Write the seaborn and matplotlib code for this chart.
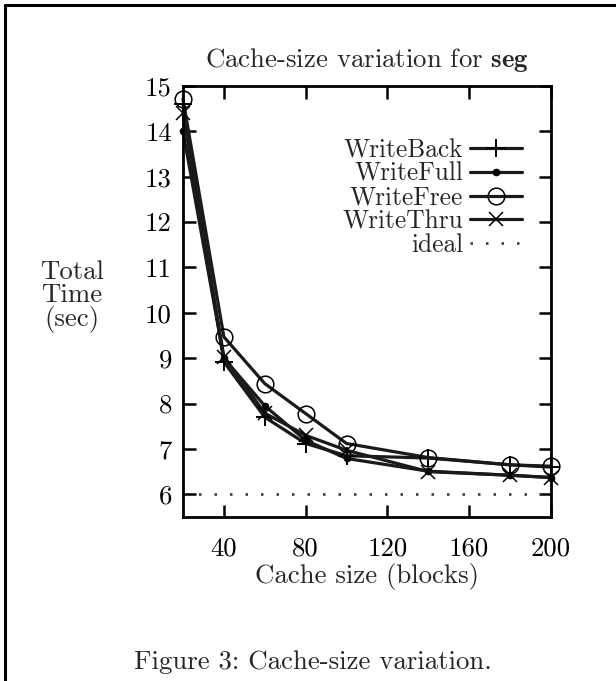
import matplotlib
matplotlib.use("Agg")
import matplotlib.pyplot as plt
import seaborn as sns
import pandas as pd
from matplotlib.lines import Line2D

# ---- data ----
cache_sizes = [20, 40, 60, 80, 100, 140, 180, 200]
write_back = [14.6, 8.92, 7.70, 7.12, 6.85, 6.80, 6.65, 6.60]
write_full = [14.0, 9.00, 7.95, 7.19, 6.79, 6.51, 6.42, 6.37]
write_free = [14.71, 9.47, 8.44, 7.78, 7.12, 6.81, 6.65, 6.62]
write_thru = [14.4, 9.03, 7.79, 7.30, 6.97, 6.50, 6.42, 6.37]
ideal_x = [20, 200]
ideal_y = [6, 6]
x_ticks = [40, 80, 120, 160, 200]
y_ticks = [6, 7, 8, 9, 10, 11, 12, 13, 14, 15]

sns.set_theme(style="white")
plt.rcParams["font.family"] = ["cmr10", "DejaVu Serif"]
plt.rcParams["mathtext.fontset"] = "cm"
plt.rcParams["axes.formatter.use_mathtext"] = True

fig = plt.figure(figsize=(6.16, 6.81), dpi=100)
ax = fig.add_axes([183/616, 1-517/681, (551-183)/616, (517-86)/681])

FS = 19.3
LFS = 18.3
LC = "#1a1a1a"
series = [
    ("WriteBack", write_back, dict(marker="+", markersize=12.5, markeredgewidth=1.4,
                                   markeredgecolor="black")),
    ("WriteFull", write_full, dict(marker="o", markersize=5, markerfacecolor="black",
                                   markeredgecolor="black", markeredgewidth=0.5)),
    ("WriteFree", write_free, dict(marker="o", markersize=12, markerfacecolor="none",
                                   markeredgewidth=1.1, markeredgecolor="black")),
    ("WriteThru", write_thru, dict(marker="x", markersize=9.5, markeredgewidth=1.1,
                                   markeredgecolor="black")),
]
for name, vals, mk in series:
    df = pd.DataFrame({"x": cache_sizes, "y": vals})
    sns.lineplot(data=df, x="x", y="y", ax=ax, color=LC, linewidth=2.3,
                 label=name, clip_on=False, **mk)
dfi = pd.DataFrame({"x": ideal_x, "y": ideal_y})
sns.lineplot(data=dfi, x="x", y="y", ax=ax, color="#333333", linewidth=1.8,
             linestyle=(0, (1, 5.2)), label="ideal")

ax.set_xlim(20, 200)
ax.set_ylim(5.5, 15)
ax.set_xticks(x_ticks)
ax.set_yticks(y_ticks)
ax.set_xticklabels([str(t) for t in x_ticks], fontsize=FS)
ax.set_yticklabels([str(t) for t in y_ticks], fontsize=FS)
ax.tick_params(direction="in", length=9, width=1.8, top=True, right=True,
               bottom=True, left=True, pad=14, colors="black")
ax.tick_params(axis="y", pad=8)
for s in ax.spines.values():
    s.set_linewidth(2.0)
    s.set_color("black")

ax.set_xlabel("Cache size (blocks)", fontsize=FS, labelpad=2)
ax.set_ylabel("")
ax.set_title("Cache-size variation for " + r"$\mathbf{seg}$", fontsize=FS, pad=14)
fig.text(72/616, 1-297/681, "Total\nTime\n(sec)", fontsize=FS, ha="center",
         va="center", linespacing=0.95)

leg = ax.legend(loc="upper right", bbox_to_anchor=(0.948, 0.902), frameon=False,
                markerfirst=False, fontsize=LFS, handlelength=2.05,
                handletextpad=0.25, labelspacing=0.0, borderaxespad=0)
for t in leg.get_texts():
    t.set_ha("right")

fig.text(313/616, 1-662/681, "Figure 3: Cache-size variation.", fontsize=FS,
         ha="center", va="center")

# page frame lines (top and left)
fig.add_artist(Line2D([5/616, 1], [1-5/681, 1-5/681], color="black", linewidth=2.2,
                      transform=fig.transFigure))
fig.add_artist(Line2D([5/616, 5/616], [0, 1-5/681], color="black", linewidth=2.2,
                      transform=fig.transFigure))

fig.savefig("out.png", dpi=100)
